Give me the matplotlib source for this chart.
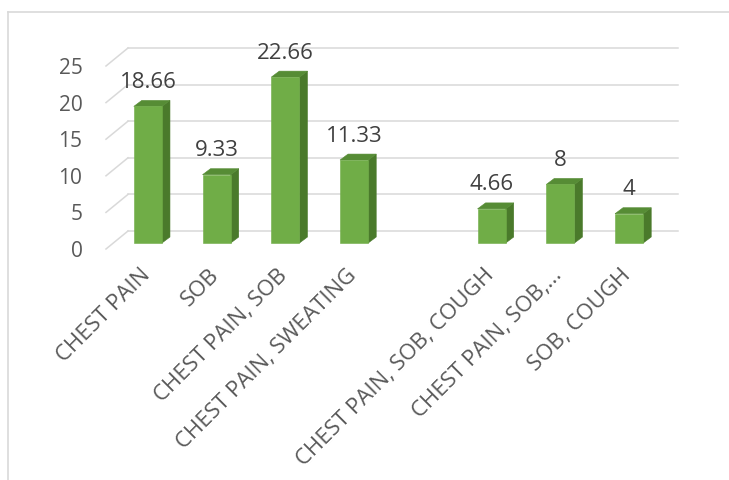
import numpy as np
import matplotlib.pyplot as plt
from matplotlib.patches import Polygon
from matplotlib.lines import Line2D
from matplotlib.transforms import IdentityTransform

# %% data
categories = ['CHEST PAIN', 'SOB', 'CHEST PAIN, SOB', 'CHEST PAIN, SWEATING', '',
              'CHEST PAIN, SOB, COUGH', 'CHEST PAIN, SOB,...', 'SOB, COUGH']
values = [18.66, 9.33, 22.66, 11.33, np.nan, 4.66, 8, 4]
value_labels = ['18.66', '9.33', '22.66', '11.33', '', '4.66', '8', '4']
yticks = [0, 5, 10, 15, 20, 25]

plt.rcParams['font.family'] = ['Open Sans', 'DejaVu Sans']

# %% figure
W, H, DPI = 729, 480, 100
fig = plt.figure(figsize=(W / DPI, H / DPI), dpi=DPI)
ax = fig.add_axes([106 / W, 231 / H, 550 / W, 183 / H])
ax.set_xlim(-0.5, len(categories) - 0.5)
ax.set_ylim(0, 25)
ax.set_frame_on(False)
ax.set_xticks([])
ax.set_yticks(yticks)
ax.tick_params(length=0, pad=17, labelsize=15, labelcolor='#595959')

# offsets (pixels) of the 3d planes
FRONT = (7.5, 6)     # bar fronts
DEPTH = (8, 6)       # bar depth
WALL = (22, 18)      # back wall
bw = 0.41
grid_c = '#d9d9d9'


def px(x, y, dx=0, dy=0):
    X, Y = ax.transData.transform((x, y))
    return X + dx, Y + dy


# back wall grid + floor diagonals
x_lo, x_hi = ax.get_xlim()
for v in yticks:
    a = px(x_lo, v, *WALL)
    b = px(x_hi, v, *WALL)
    c = px(x_lo, v)
    ax.add_line(Line2D([a[0], b[0]], [a[1], b[1]], color=grid_c, lw=1.1,
                       transform=IdentityTransform(), clip_on=False, zorder=1))
    ax.add_line(Line2D([c[0], a[0]], [c[1], a[1]], color=grid_c, lw=1.1,
                       transform=IdentityTransform(), clip_on=False, zorder=1))


def face(pts, color, z):
    ax.add_patch(Polygon(pts, closed=True, facecolor=color, edgecolor=color, lw=0.4,
                         transform=IdentityTransform(), clip_on=False, zorder=z))


# bars
for i, v in enumerate(values):
    if np.isnan(v):
        continue
    fl = px(i - bw / 2, 0, *FRONT)
    fr = px(i + bw / 2, 0, *FRONT)
    tl = px(i - bw / 2, v, *FRONT)
    tr = px(i + bw / 2, v, *FRONT)
    br = (fr[0] + DEPTH[0], fr[1] + DEPTH[1])
    tbr = (tr[0] + DEPTH[0], tr[1] + DEPTH[1])
    tbl = (tl[0] + DEPTH[0], tl[1] + DEPTH[1])
    face([fr, br, tbr, tr], '#4a7a2b', 2)
    face([tl, tr, tbr, tbl], '#568c35', 2)
    face([fl, fr, tr, tl], '#70ad47', 3)
    ax.annotate(value_labels[i], (i, v), xytext=(FRONT[0] * 0.72, (FRONT[1] + 24) * 0.72),
                textcoords='offset points', ha='center', va='center',
                fontsize=16, color='#404040', zorder=4)

# category labels
for i, cat in enumerate(categories):
    ax.annotate(cat, (i, 0), xytext=(-1 * 0.72, -16 * 0.72), textcoords='offset points',
                ha='right', va='top', rotation=45, rotation_mode='anchor',
                fontsize=16, color='#595959')

# chart border
fig.add_artist(Line2D([7.5 / W, 7.5 / W], [0, 1 - 12 / H], color=grid_c, lw=1.2,
                      transform=fig.transFigure))
fig.add_artist(Line2D([7.5 / W, 1], [1 - 12 / H, 1 - 12 / H], color=grid_c, lw=1.2,
                      transform=fig.transFigure))

fig.savefig('out.png', dpi=DPI)
